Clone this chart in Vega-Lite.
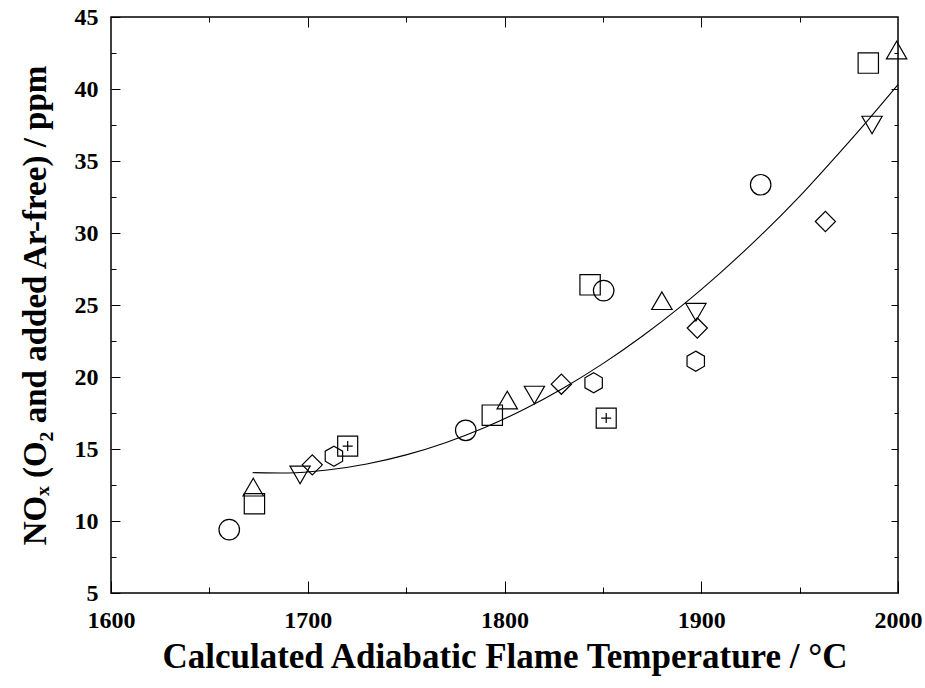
{
  "$schema": "https://vega.github.io/schema/vega-lite/v6.json",
  "width": 787,
  "height": 576,
  "autosize": {"type": "none"},
  "padding": {"left": 111, "top": 17, "right": 27, "bottom": 95},
  "background": "white",
  "config": {
    "view": {"stroke": "black", "strokeWidth": 1.5},
    "font": "Liberation Serif"
  },
  "datasets": {
    "pts": [
      {"series": "circle", "t": 1660.1, "nox": 9.4},
      {"series": "circle", "t": 1780.3, "nox": 16.3},
      {"series": "circle", "t": 1850.4, "nox": 26.0},
      {"series": "circle", "t": 1930.2, "nox": 33.35},
      {"series": "triangle-up", "t": 1672.3, "nox": 12.35},
      {"series": "triangle-up", "t": 1801.4, "nox": 18.4},
      {"series": "triangle-up", "t": 1880.0, "nox": 25.3},
      {"series": "triangle-up", "t": 1999.3, "nox": 42.7},
      {"series": "square", "t": 1672.9, "nox": 11.2},
      {"series": "square", "t": 1793.8, "nox": 17.35},
      {"series": "square", "t": 1843.5, "nox": 26.4},
      {"series": "square", "t": 1984.9, "nox": 41.8},
      {"series": "triangle-down", "t": 1696.1, "nox": 13.2},
      {"series": "triangle-down", "t": 1815.2, "nox": 18.75},
      {"series": "triangle-down", "t": 1897.3, "nox": 24.5},
      {"series": "triangle-down", "t": 1986.8, "nox": 37.5},
      {"series": "diamond", "t": 1702.3, "nox": 13.9},
      {"series": "diamond", "t": 1828.9, "nox": 19.5},
      {"series": "diamond", "t": 1898.0, "nox": 23.4},
      {"series": "diamond", "t": 1963.1, "nox": 30.8},
      {"series": "hexagon", "t": 1713.3, "nox": 14.5},
      {"series": "hexagon", "t": 1845.3, "nox": 19.6},
      {"series": "hexagon", "t": 1897.2, "nox": 21.1},
      {"series": "squareplus", "t": 1720.3, "nox": 15.2},
      {"series": "squareplus", "t": 1851.7, "nox": 17.15}
    ],
    "fit": [
      {"t": 1672, "nox": 13.36},
      {"t": 1690, "nox": 13.33},
      {"t": 1710, "nox": 13.54},
      {"t": 1730, "nox": 13.96},
      {"t": 1750, "nox": 14.59},
      {"t": 1770, "nox": 15.44},
      {"t": 1790, "nox": 16.49},
      {"t": 1810, "nox": 17.76},
      {"t": 1830, "nox": 19.24},
      {"t": 1850, "nox": 20.93},
      {"t": 1870, "nox": 22.83},
      {"t": 1890, "nox": 24.94},
      {"t": 1910, "nox": 27.27},
      {"t": 1930, "nox": 29.8},
      {"t": 1950, "nox": 32.55},
      {"t": 1970, "nox": 35.55},
      {"t": 1985, "nox": 37.88},
      {"t": 2000, "nox": 40.3}
    ]
  },
  "resolve": {"axis": {"x": "independent", "y": "independent"}},
  "layer": [
    {
      "data": {"name": "fit"},
      "mark": {"type": "line", "color": "black", "strokeWidth": 1.1, "interpolate": "monotone"},
      "encoding": {
        "x": {"field": "t", "type": "quantitative", "scale": {"domain": [1600, 2000], "nice": false, "zero": false},
          "axis": {"orient": "top", "values": [1650, 1700, 1750, 1800, 1850, 1900, 1950], "labels": false, "domain": false, "grid": false, "title": null,
            "tickColor": "black", "tickWidth": 1,
            "tickSize": {"condition": {"test": "datum.value % 100 === 0", "value": -10}, "value": -5}}},
        "y": {"field": "nox", "type": "quantitative", "scale": {"domain": [5, 45], "nice": false, "zero": false},
          "axis": {"orient": "right", "values": [7.5, 10, 12.5, 15, 17.5, 20, 22.5, 25, 27.5, 30, 32.5, 35, 37.5, 40, 42.5], "labels": false, "domain": false, "grid": false, "title": null,
            "tickColor": "black", "tickWidth": 1,
            "tickSize": {"condition": {"test": "datum.value % 5 === 0", "value": -7}, "value": -4}}}
      }
    },
    {
      "data": {"name": "pts"},
      "mark": {"type": "point", "filled": false, "stroke": "black", "strokeWidth": 1.2, "opacity": 1},
      "encoding": {
        "x": {"field": "t", "type": "quantitative", "scale": {"domain": [1600, 2000], "nice": false, "zero": false},
          "axis": {"orient": "bottom", "values": [1600, 1650, 1700, 1750, 1800, 1850, 1900, 1950, 2000], "domain": false, "grid": false,
            "title": "Calculated Adiabatic Flame Temperature / °C",
            "labelExpr": "datum.value % 100 === 0 ? datum.label : ''",
            "format": "d", "labelFlush": false, "labelOverlap": false,
            "tickColor": "black", "tickWidth": 1,
            "tickSize": {"condition": {"test": "datum.value % 100 === 0", "value": -12}, "value": -6},
            "labelFont": "Liberation Serif", "labelFontWeight": "bold", "labelFontSize": 24, "labelColor": "black", "labelPadding": 27,
            "titleFont": "Liberation Serif", "titleFontWeight": "bold", "titleFontSize": 35, "titleColor": "black", "titlePadding": 1}},
        "y": {"field": "nox", "type": "quantitative", "scale": {"domain": [5, 45], "nice": false, "zero": false},
          "axis": {"orient": "left", "values": [5, 7.5, 10, 12.5, 15, 17.5, 20, 22.5, 25, 27.5, 30, 32.5, 35, 37.5, 40, 42.5, 45], "domain": false, "grid": false,
            "title": "NOₓ (O₂ and added Ar-free) / ppm",
            "labelExpr": "datum.value % 5 === 0 ? datum.label : ''",
            "labelFlush": false, "labelOverlap": false,
            "tickColor": "black", "tickWidth": 1,
            "tickSize": {"condition": {"test": "datum.value % 5 === 0", "value": -9}, "value": -5},
            "labelFont": "Liberation Serif", "labelFontWeight": "bold", "labelFontSize": 24, "labelColor": "black", "labelPadding": 22,
            "titleFont": "Liberation Serif", "titleFontWeight": "bold", "titleFontSize": 33, "titleColor": "black", "titlePadding": 22}},
        "shape": {"field": "series", "type": "nominal", "legend": null,
          "scale": {"domain": ["circle", "triangle-up", "square", "triangle-down", "diamond", "hexagon", "squareplus"],
            "range": ["circle", "triangle-up", "square", "triangle-down", "diamond", "M0,-1L0.866,-0.5L0.866,0.5L0,1L-0.866,0.5L-0.866,-0.5Z", "M-1,-1H1V1H-1Z M-0.5,0H0.5 M0,-0.5V0.5"]}},
        "size": {"field": "series", "type": "nominal", "legend": null,
          "scale": {"domain": ["circle", "triangle-up", "square", "triangle-down", "diamond", "hexagon", "squareplus"],
            "range": [420, 400, 300, 400, 520, 400, 300]}}
      }
    }
  ]
}
